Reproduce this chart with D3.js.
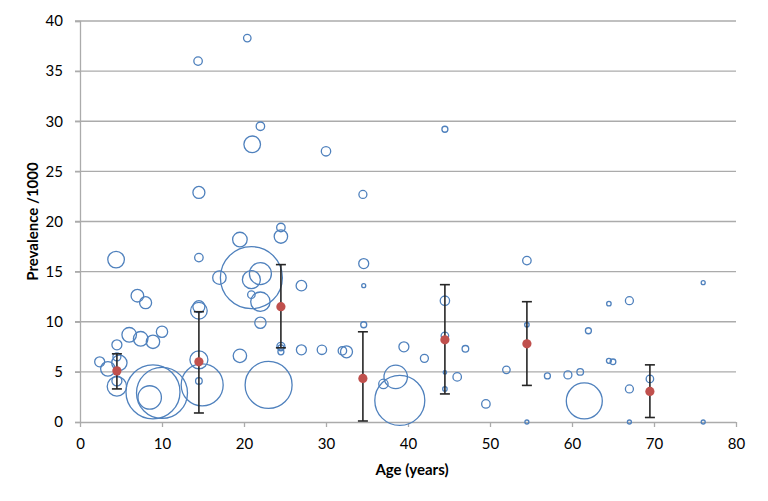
<!DOCTYPE html>
<html><head><meta charset="utf-8">
<script src="https://cdn.jsdelivr.net/npm/d3@7"></script>
<style>
html,body{margin:0;padding:0;background:#fff;}
svg text{font-family:Lato,"Open Sans",sans-serif;fill:#000;}
</style></head>
<body><svg id="c" width="768" height="501"></svg>
<script>
// Study-level bubbles: age (years), prevalence per 1000, relative study size
const ages = [4.4,7.0,8.0,6.0,7.4,8.9,10.0,4.5,2.4,4.5,4.8,3.4,4.5,4.5,8.9,10.0,8.5,
  14.4,14.5,14.5,14.5,14.5,14.5,14.5,14.9,17.0,19.5,19.5,20.4,21.0,22.0,20.9,22.0,20.9,20.9,22.0,22.0,23.0,
  24.5,24.5,24.5,24.5,24.5,27.0,27.0,29.5,30.0,32.0,32.5,34.5,34.6,34.6,34.6,37.0,38.5,39.0,39.5,42.0,
  44.5,44.5,44.5,44.5,44.5,46.0,47.0,49.5,52.0,54.5,54.5,54.5,57.0,59.5,61.0,61.5,62.0,64.5,64.5,65.0,
  67.0,67.0,67.0,69.5,76.0,76.0];
const prevalence = [16.2,12.6,11.9,8.7,8.3,8.0,9.0,7.7,6.0,6.5,5.9,5.3,4.1,3.55,3.0,2.9,2.45,
  36.0,22.9,16.4,11.5,11.1,6.2,4.1,3.7,14.4,18.2,6.6,38.3,27.7,29.5,14.4,14.8,14.2,12.7,12.0,9.9,3.7,
  19.4,18.5,7.55,7.4,7.0,13.6,7.2,7.2,27.0,7.1,7.0,22.7,15.8,13.6,9.7,3.8,4.5,2.15,7.5,6.35,
  29.2,12.1,8.6,4.95,3.3,4.5,7.3,1.8,5.2,16.1,9.7,0,4.6,4.7,5.0,2.1,9.1,11.8,6.1,6.0,
  12.1,3.3,0,4.3,13.9,0];
const studySize = [69,40,36,53,53,45,32,25,25,16,59,53,25,94,729,650,137,
  18,36,18,36,69,81,11,441,45,53,45,14,69,18,961,121,81,14,94,32,552,
  18,45,16,9,9,28,25,22,22,18,36,16,25,4,9,22,137,625,25,16,
  9,22,14,3,5,18,11,18,14,18,5,4,9,16,11,324,9,5,6,8,
  16,16,4,14,4,4];
// Age-group means with error bars
const groupAge = [4.5,14.5,24.5,34.5,44.5,54.5,69.5];
const groupMean = [5.1,6.0,11.5,4.35,8.2,7.8,3.05];
const groupLow = [3.3,0.9,7.4,0.1,2.8,3.65,0.45];
const groupHigh = [6.8,11.0,15.7,9.0,13.7,12.0,5.7];
const xTicks = [0,10,20,30,40,50,60,70,80];
const yTicks = [0,5,10,15,20,25,30,35,40];

const svg = d3.select("#c");
const L = 80, R = 736, T = 21, B = 422;
const x = d3.scaleLinear().domain([0,80]).range([L,R]);
const y = d3.scaleLinear().domain([0,40]).range([B,T]);
const r = d3.scaleSqrt().domain([0,961]).range([0,31]);
const gridCol = "#ababab";

// gridlines
svg.append("g").selectAll("line").data(yTicks.filter(d=>d>0)).join("line")
  .attr("x1",L-5).attr("x2",R).attr("y1",d=>y(d)).attr("y2",d=>y(d))
  .attr("stroke",gridCol).attr("stroke-width",1.3);

// axes
const yAxis = svg.append("g").attr("transform",`translate(${L},0)`)
  .call(d3.axisLeft(y).tickValues(yTicks).tickSize(5).tickPadding(12).tickFormat(d3.format("d")));
const xAxis = svg.append("g").attr("transform",`translate(0,${B})`)
  .call(d3.axisBottom(x).tickValues(xTicks).tickSize(5).tickPadding(11).tickFormat(d3.format("d")));
[yAxis,xAxis].forEach(g=>{
  g.select(".domain").attr("stroke",gridCol).attr("stroke-width",1.3);
  g.selectAll(".tick line").attr("stroke",gridCol).attr("stroke-width",1.3);
  g.selectAll(".tick text").attr("font-size",15).attr("font-family","Lato,'Open Sans',sans-serif").attr("fill","#000");
});
xAxis.select(".domain").attr("d",`M${L},0.5H${R}`);

// bubbles
const pts = ages.map((a,i)=>({a, p:prevalence[i], n:studySize[i]}));
svg.append("g").selectAll("circle").data(pts).join("circle")
  .attr("cx",d=>x(d.a)).attr("cy",d=>y(d.p)).attr("r",d=>r(d.n))
  .attr("fill","none").attr("stroke","#4f81bd").attr("stroke-width",1.3);

// error bars
const grp = groupAge.map((a,i)=>({a,m:groupMean[i],lo:groupLow[i],hi:groupHigh[i]}));
const eb = svg.append("g").attr("stroke","#262626").attr("stroke-width",1.6);
eb.selectAll("line.v").data(grp).join("line").attr("class","v")
  .attr("x1",d=>x(d.a)).attr("x2",d=>x(d.a)).attr("y1",d=>y(d.lo)).attr("y2",d=>y(d.hi));
eb.selectAll("line.h").data(grp).join("line").attr("class","h")
  .attr("x1",d=>x(d.a)-5).attr("x2",d=>x(d.a)+5).attr("y1",d=>y(d.hi)).attr("y2",d=>y(d.hi));
eb.selectAll("line.l").data(grp).join("line").attr("class","l")
  .attr("x1",d=>x(d.a)-5).attr("x2",d=>x(d.a)+5).attr("y1",d=>y(d.lo)).attr("y2",d=>y(d.lo));
svg.append("g").selectAll("circle").data(grp).join("circle")
  .attr("cx",d=>x(d.a)).attr("cy",d=>y(d.m)).attr("r",4.6).attr("fill","#c0504d");

// titles
svg.append("text").attr("x",(L+R)/2 + 4).attr("y",475).attr("text-anchor","middle")
  .attr("font-size",15).attr("font-weight","bold").text("Age (years)");
svg.append("text").attr("transform",`translate(38,${(T+B)/2}) rotate(-90)`).attr("text-anchor","middle")
  .attr("font-size",15).attr("font-weight","bold").text("Prevalence /1000");
</script></body></html>
